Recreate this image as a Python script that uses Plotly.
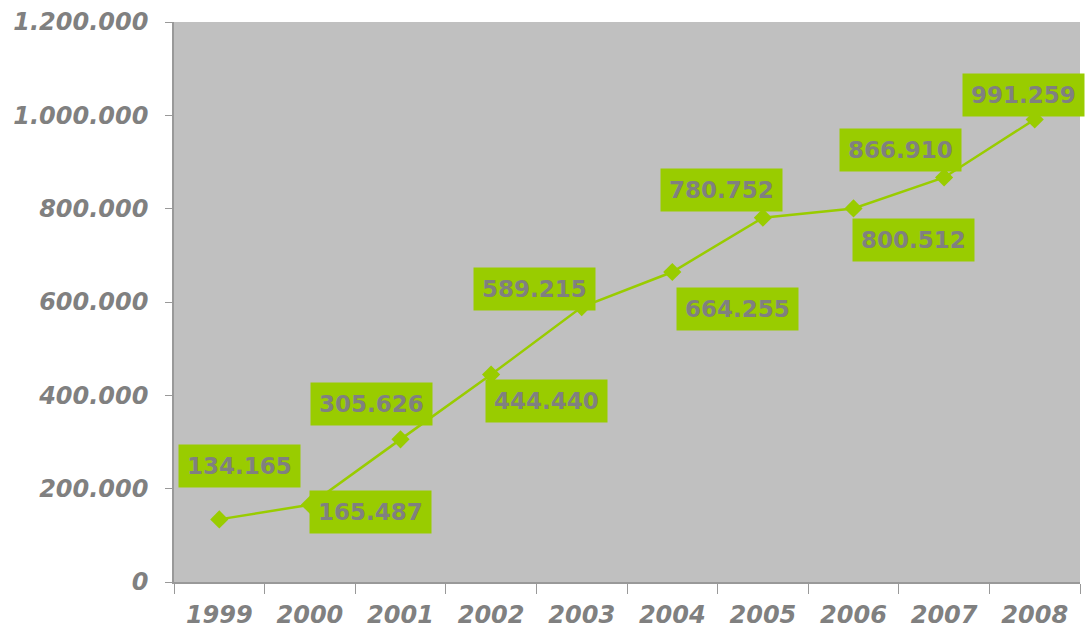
import plotly.graph_objects as go

# Yearly totals
years = ["1999", "2000", "2001", "2002", "2003", "2004", "2005", "2006", "2007", "2008"]
values = [134165, 165487, 305626, 444440, 589215, 664255, 780752, 800512, 866910, 991259]
labels = ["134.165", "165.487", "305.626", "444.440", "589.215",
          "664.255", "780.752", "800.512", "866.910", "991.259"]
# pixel offsets of each value label relative to its point
label_dx = [20, 61, -29, 55, -47, 65, -41, 60, -44, -11]
label_dy = [53, -7, 35, -26, 18, -37, 28, -32, 27, 24]

GREEN = "#99CC00"
GREY_TXT = "#808080"
FONT = "DejaVu Sans"

fig = go.Figure()
fig.add_trace(go.Scatter(
    x=years, y=values, mode="lines+markers",
    line=dict(color=GREEN, width=2.5),
    marker=dict(symbol="diamond", size=14, color=GREEN),
    hoverinfo="x+y",
))

for i, (v, t, dx, dy) in enumerate(zip(values, labels, label_dx, label_dy)):
    fig.add_annotation(
        xref="x", yref="y", x=i, y=v, text="<b>" + t + "</b>", showarrow=False,
        xshift=dx, yshift=dy,
        bgcolor=GREEN, borderpad=8,
        font=dict(family=FONT, size=23, color=GREY_TXT),
    )

fig.update_layout(
    width=1085, height=630,
    margin=dict(l=174, r=5, t=22, b=48, autoexpand=False),
    paper_bgcolor="white",
    plot_bgcolor="#C0C0C0",
    showlegend=False,
    separators=",.",
    xaxis=dict(
        type="category", range=[-0.5, 9.5], automargin=False,
        showgrid=False, showline=True, linecolor="#999999", linewidth=1.5,
        ticks="outside", ticklen=10, tickcolor="#999999", tickson="boundaries",
        ticklabelstandoff=10,
        tickfont=dict(family=FONT, size=24, color=GREY_TXT, weight="bold", style="italic"),
    ),
    yaxis=dict(
        range=[0, 1200000], tickvals=[0, 200000, 400000, 600000, 800000, 1000000, 1200000],
        tickformat=",d", automargin=False,
        showgrid=False, zeroline=False, showline=True, linecolor="#999999", linewidth=1.5,
        ticks="outside", ticklen=7, tickcolor="#999999",
        ticklabelstandoff=12,
        tickfont=dict(family=FONT, size=24, color=GREY_TXT, weight="bold", style="italic"),
    ),
)

fig.write_html("out.html")
